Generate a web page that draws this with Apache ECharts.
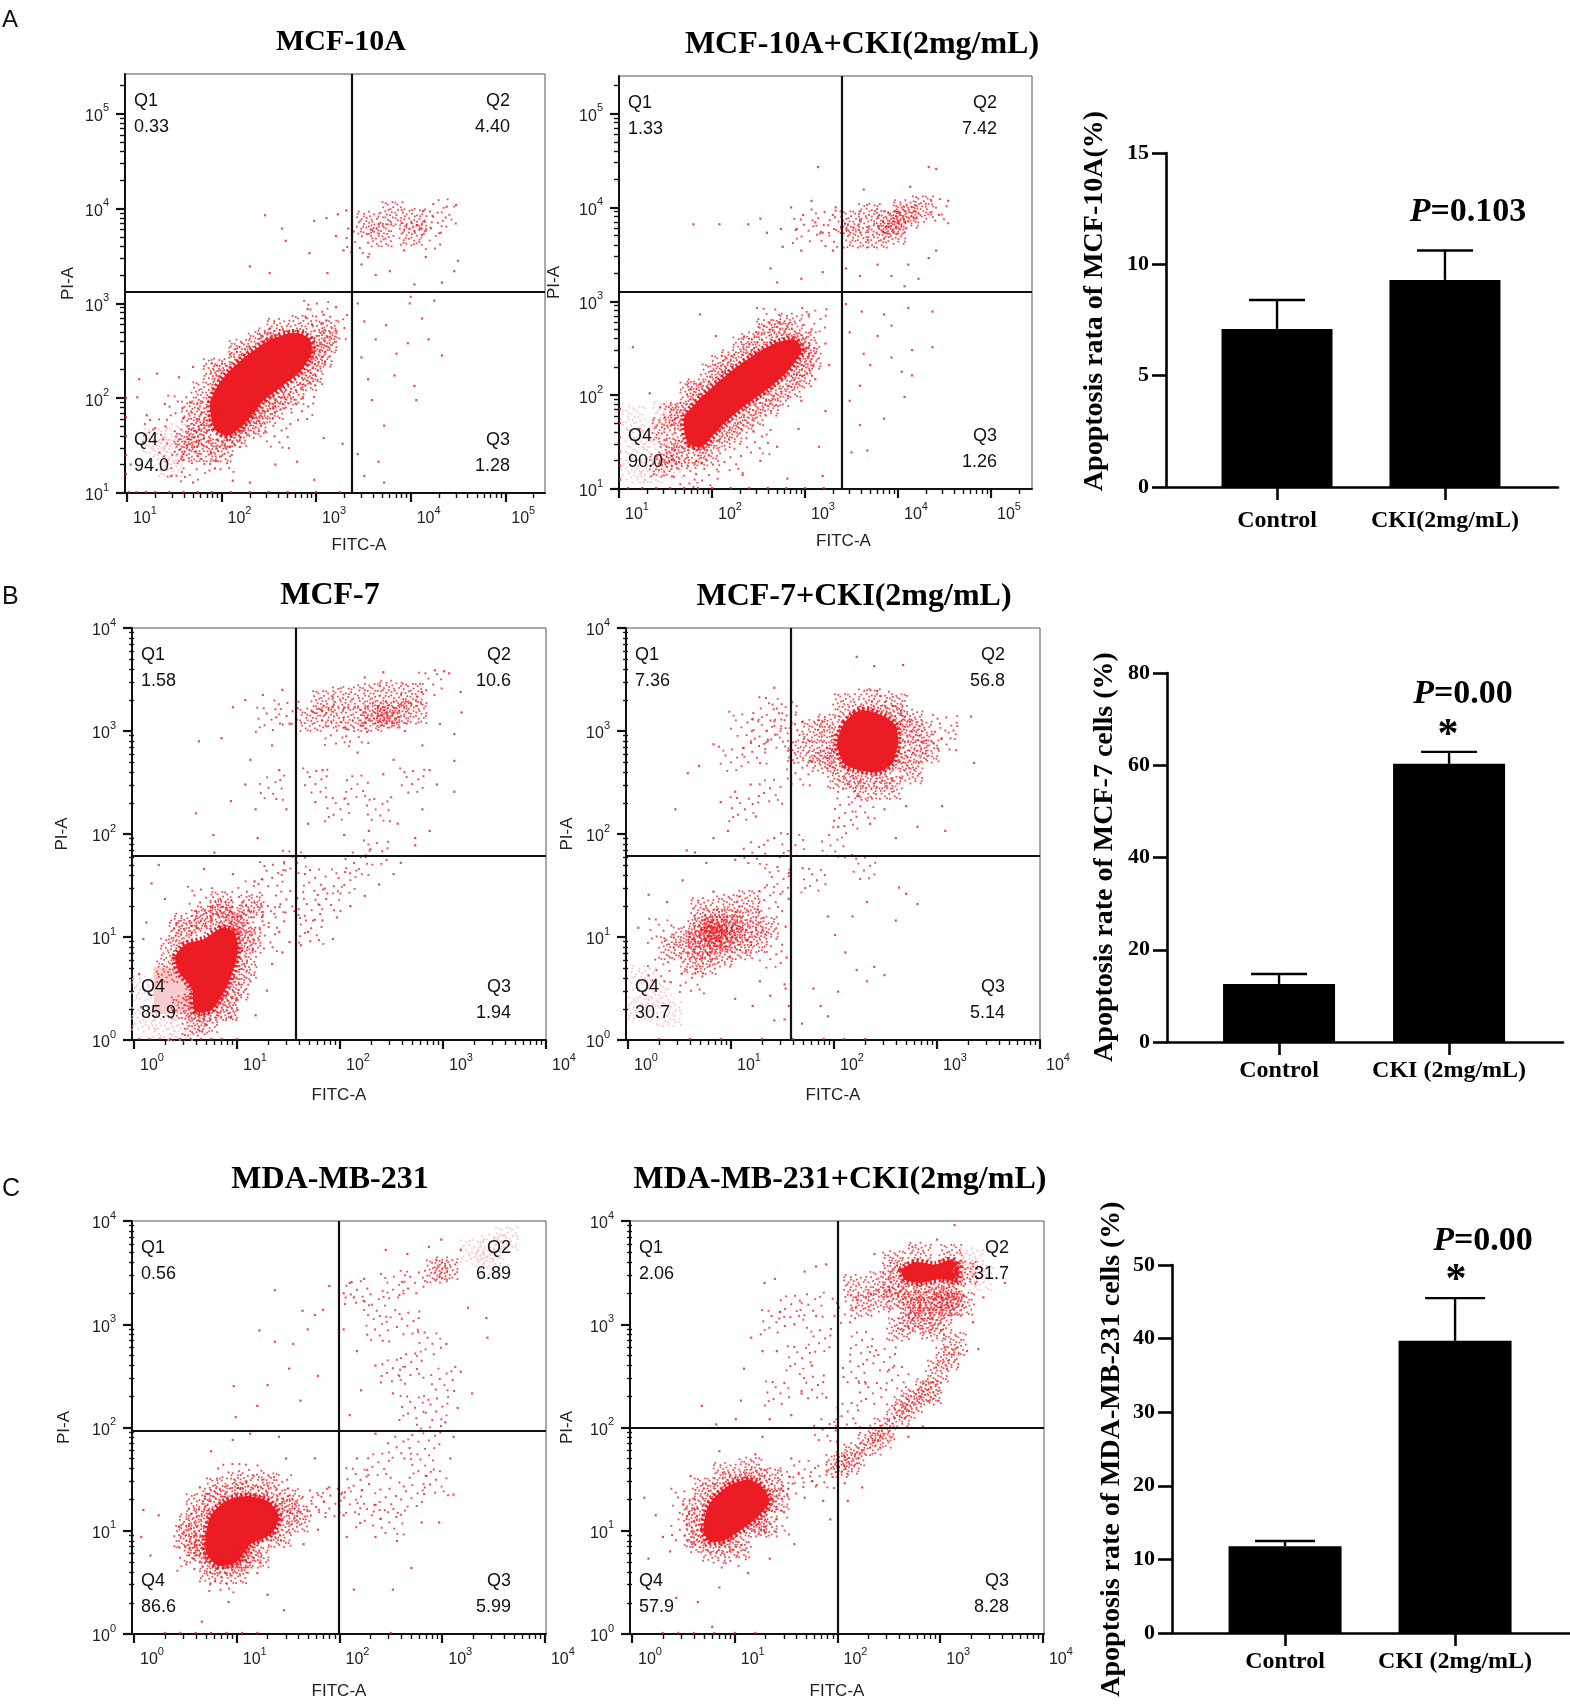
<!DOCTYPE html>
<html>
<head>
<meta charset="utf-8">
<script src="https://cdn.jsdelivr.net/npm/echarts@6/dist/echarts.min.js"></script>
<style>
html,body{margin:0;padding:0;background:#fff}
#c{width:1570px;height:1704px}
</style>
</head>
<body>
<div id="c"></div>
<script>
// ---------- flow cytometry data (log10 units: [FITC-A, PI-A]) ----------
// A1  MCF-10A
const a1X = [0.98, 5.42], a1Y = [1.0, 5.42];
const a1Gate = [3.38, 3.12];
const a1Quad = ['0.33', '4.40', '1.28', '94.0'];
const a1Blob = [[1.93,1.67],[1.88,1.95],[1.99,2.18],[2.22,2.41],[2.49,2.6],[2.76,2.69],[2.93,2.63],[2.95,2.47],[2.82,2.27],[2.62,2.11],[2.43,1.96],[2.28,1.77],[2.08,1.61]];
const a1Dense = [[1.77,1.67],[1.62,1.55],[2.08,1.6],[2.3,1.7],[1.93,2.3],[2.2,2.5],[2.5,2.62],[2.85,2.75],[2.98,2.45],[2.9,2.2],[2.62,2.0],[1.8,2.05],[2.1,1.75],[1.85,1.45],[2.45,1.85],[2.75,2.6],[3.1,2.6],[1.88,1.78],[2.86,2.53],
  [2.0,2.25],[2.2,2.42],[2.4,2.58],[2.6,2.72],[2.15,1.6],[2.35,1.75],[2.55,1.9],[2.75,2.05],[2.95,2.25],[3.05,2.45],[1.75,1.6],[1.65,1.45],[3.1,2.7],[1.7,1.85],[2.0,1.45],
  [3.55,3.85],[3.8,3.95],[4.05,3.88],[3.7,3.72],[4.0,3.73]];
const a1Light = [[1.47,1.3],[1.7,1.25],[2.0,1.35],[3.2,2.75],[3.0,2.9],[1.55,1.9],[1.3,1.65],[2.6,1.6],[2.85,1.9],
  [4.25,3.85],[4.35,3.97],[3.45,3.65],[4.2,3.7]];
const a1Dots = [[2.46,3.93],[2.64,3.79],[2.68,3.66],[2.3,3.39],[2.51,3.32],[2.93,3.53],[2.98,3.87],[3.11,3.9],[3.12,3.32],[3.23,3.94],[3.21,3.71],[3.29,3.56],[3.32,3.98],[3.34,3.79],
  [3.48,3.41],[3.63,3.3],[3.78,3.34],[3.93,3.56],[4.04,3.2],[4.16,3.49],[4.33,3.22],[4.46,3.34],[4.5,3.45],[4.38,4.02],[4.48,4.04],[3.55,3.49],
  [3.44,3.0],[3.51,2.81],[3.63,2.62],[3.74,2.77],[3.48,2.43],[3.55,2.2],[3.59,1.98],[3.72,1.71],[3.83,2.24],[3.85,2.47],[3.97,2.58],[4.04,2.13],[4.06,1.98],[4.19,2.62],[4.25,3.03],[4.33,2.45],[3.99,3.0],[4.12,2.84],[3.44,1.41],[3.51,1.18],[3.72,1.11],[3.66,1.33],[4.0,3.07],
  [1.13,2.2],[1.21,1.82],[1.32,2.26],[1.4,1.94],[1.55,2.22],[1.7,2.33],[2.91,2.94],[3.08,2.88],[3.21,2.96],[3.08,1.58],[3.28,1.52],[2.8,1.33],[2.57,1.3],[2.3,1.11],[2.12,1.13],[2.98,1.14],[1.47,1.18],[1.7,1.11],[1.93,1.26],[1.11,2.01],[1.28,1.67],[1.04,1.3],
  [1.02,1.01],[1.1,1.01],[1.2,1.01],[1.3,1.01],[1.45,1.01],[1.6,1.01],[1.75,1.01],[1.9,1.01],[2.1,1.01],[2.3,1.01],[2.5,1.01],[2.7,1.01],[3.0,1.01],[3.25,1.01],
  [0.99,1.2],[0.99,1.4],[0.99,1.6],[0.99,1.8],[0.99,2.0]];
const a1Pale = [[1.4,1.45],[1.52,1.6],[1.45,1.3],[1.3,1.55]];

// A2  MCF-10A+CKI
const a2X = [1.0, 5.44], a2Y = [1.0, 5.4];
const a2Gate = [3.39, 3.1];
const a2Quad = ['1.33', '7.42', '1.26', '90.0'];
const a2Blob = [[1.74,1.49],[1.7,1.75],[1.89,1.98],[2.15,2.21],[2.41,2.4],[2.67,2.55],[2.89,2.59],[2.96,2.48],[2.81,2.25],[2.59,2.06],[2.33,1.87],[2.07,1.64],[1.89,1.45]];
const a2Dense = [[1.63,1.34],[1.85,1.37],[2.07,1.56],[2.33,1.72],[2.59,1.9],[2.85,2.1],[2.96,2.32],[3.0,2.55],[2.74,2.66],[2.44,2.55],[2.22,2.36],[2.0,2.21],[1.78,2.02],[1.67,1.79],[1.48,1.64],[1.7,1.53],[2.93,2.51],
  [1.6,1.8],[1.85,2.05],[2.1,2.3],[2.35,2.5],[2.6,2.68],[2.85,2.75],[1.95,1.4],[2.2,1.6],[2.45,1.8],[2.7,2.0],[2.95,2.2],[3.05,2.4],[1.55,1.4],[1.45,1.25],
  [3.48,3.84],[3.7,3.92],[3.89,3.84],[4.07,3.96],[4.26,4.0],[3.96,3.73],[3.78,3.69],[3.56,3.69],[3.96,3.84],[4.1,3.9]];
const a2Light = [[1.7,1.18],[1.93,1.15],[2.2,1.3],[2.5,1.5],[3.1,2.8],[2.6,2.8],[4.41,3.96],[3.3,3.7],[3.2,3.85],[3.0,3.75]];
const a2Dots = [[1.8,3.82],[2.08,3.82],[2.39,3.82],[2.52,3.88],[2.59,3.73],[2.74,3.77],[2.76,3.58],[2.85,4.0],[2.98,3.92],[3.07,4.07],[3.14,4.43],[3.19,3.73],[2.96,3.54],[2.63,3.35],[2.7,3.2],[2.96,3.24],[3.19,3.31],[3.3,3.92],[3.3,3.54],[3.33,4.0],[3.11,3.84],[2.91,3.77],
  [4.33,4.43],[4.41,4.41],[4.13,4.22],[3.63,4.19],[4.54,4.07],[4.44,3.92],[4.41,3.54],[4.33,3.46],[4.11,3.39],[3.78,3.39],[3.59,3.27],[3.93,3.27],[4.22,3.24],[4.07,3.16],[3.44,3.35],
  [3.44,2.97],[3.61,2.89],[3.85,2.86],[4.11,2.93],[4.37,2.89],[3.93,2.74],[3.78,2.63],[3.63,2.44],[4.15,2.48],[4.37,2.51],[4.04,2.25],[3.7,2.32],[3.59,2.1],[3.48,1.94],[4.07,1.98],[3.85,1.75],[3.59,1.68],[3.5,1.39],[3.67,1.41],[4.15,2.21],[3.93,2.4],[3.48,2.67],
  [1.87,2.86],[2.04,2.63],[1.15,2.51],[1.33,2.02],[1.44,1.87],[1.22,1.64],[3.04,2.86],[3.07,2.7],[3.22,2.55],[3.26,2.32],[3.11,2.17],[2.96,1.94],[3.22,1.83],[2.93,1.64],[3.15,1.45],[2.7,1.45],[2.52,1.3],[2.81,1.11],[3.19,1.14],[2.33,1.15],
  [1.1,1.01],[1.25,1.01],[1.4,1.01],[1.55,1.01],[1.7,1.01],[1.85,1.01],[2.0,1.01],[2.2,1.01],[2.4,1.01],[2.6,1.01],[2.8,1.01],[3.0,1.01],[3.2,1.01],
  [1.01,1.1],[1.01,1.25],[1.01,1.4],[1.01,1.55],[1.01,1.7],[1.01,1.85]];
const a2Pale = [[1.15,1.2],[1.35,1.2],[1.55,1.25],[1.2,1.5],[1.4,1.55],[1.15,1.75],[1.5,1.8]];

// B1  MCF-7
const b1X = [-0.02, 4.0], b1Y = [0, 4.0];
const b1Gate = [1.57, 1.79];
const b1Quad = ['1.58', '10.6', '1.94', '85.9'];
const b1Blob = [[0.4,0.81],[0.5,0.93],[0.68,0.98],[0.85,1.09],[0.97,1.05],[1.01,0.88],[0.96,0.67],[0.87,0.46],[0.75,0.29],[0.59,0.28],[0.56,0.5],[0.43,0.67]];
const b1Dense = [[0.37,0.88],[0.33,0.67],[0.5,1.12],[0.71,1.19],[0.96,1.19],[1.06,0.98],[0.99,0.78],[0.92,0.53],[0.64,0.29],[0.47,0.32],[0.89,0.32],[0.85,1.33],[0.93,1.1],[0.6,0.45],
  [0.45,1.05],[0.65,1.15],[0.85,1.25],[1.05,1.15],[1.12,0.95],[1.08,0.7],[1.0,0.5],[0.9,0.3],[0.7,0.18],[0.58,0.15],[1.15,1.3],
  [1.72,3.11],[1.93,3.14],[2.14,3.12],[2.35,3.18],[2.56,3.18],[2.73,3.18],[1.83,3.28],[2.04,3.32],[2.28,3.35],[2.49,3.38],[2.7,3.35],[2.47,3.14],[2.31,3.11],[2.47,3.14]];
const b1Light = [[0.64,1.37],[1.13,1.19],[1.27,0.98],[1.13,1.44],[1.34,1.61],[1.55,1.72],[1.76,1.54],[1.9,1.37],[2.04,1.54],[1.69,1.26],[1.48,1.33],[2.17,1.72],[2.35,1.82],[1.34,1.19],[1.72,1.05],
  [1.34,2.45],[1.76,2.52],[1.97,2.24],[2.17,2.45],[2.38,2.24],[2.7,2.52],[2.87,3.45],[1.97,2.97],[2.17,3.0],[1.48,3.18],[1.3,3.11]];
const b1Dots = [[0.63,2.9],[0.6,2.2],[0.77,1.99],[0.85,2.93],[0.96,3.23],[1.08,3.3],[1.25,3.35],[1.44,3.4],[0.94,2.32],[1.08,2.48],[1.13,2.72],[1.41,2.62],[1.2,1.96],[1.51,3.07],[1.34,2.86],[1.48,2.24],[1.18,2.24],
  [2.24,3.52],[2.42,3.57],[2.92,3.59],[3.01,3.58],[3.06,3.56],[3.17,3.38],[3.18,3.18],[3.11,2.97],[3.11,2.71],[3.11,2.41],[2.94,2.48],[2.87,2.03],[2.8,2.24],[2.52,2.72],[2.56,2.1],[2.73,1.96],[2.42,2.58],[1.83,2.62],[1.76,2.31],[1.69,2.1],[2.04,1.99],[2.28,2.03],[2.17,2.79],[2.8,2.86],[2.63,3.0],[2.97,3.07],[2.87,2.62],
  [2.59,1.72],[2.52,1.61],[2.38,1.51],[2.24,1.4],[2.1,1.3],[1.97,1.19],[1.83,1.16],[1.69,1.05],[1.62,0.92],[1.93,0.98],[2.73,1.89],
  [0.24,1.7],[0.17,1.52],[0.12,1.14],[0.09,0.98],[0.68,1.66],[0.78,1.82],[0.94,0.22],[1.18,0.24],[1.29,0.48],[1.13,0.57],[1.34,0.74],[1.44,0.85],[1.51,0.95],[1.41,1.05],[1.17,1.54],[0.96,1.61],[0.3,1.37],[0.05,0.64],[0.07,0.32],[0.7,0.15],
  [0.05,0.01],[0.15,0.01],[0.25,0.01],[0.35,0.01],[0.45,0.01],[0.55,0.01],[0.65,0.01],[0.75,0.01],[0.85,0.01],[1.0,0.01]];
const b1Pale = [[0.1,0.2],[0.3,0.15],[0.1,0.5],[0.45,0.1]];
const b1PaleBox = [[0.19, 0.254], [0.557, 0.706]];

// B2  MCF-7+CKI
const b2X = [-0.02, 4.0], b2Y = [0, 4.0];
const b2Gate = [1.58, 1.79];
const b2Quad = ['7.36', '56.8', '5.14', '30.7'];
const b2Blob = [[2.1,3.08],[2.25,3.2],[2.45,3.16],[2.6,3.05],[2.62,2.88],[2.56,2.68],[2.42,2.6],[2.25,2.62],[2.1,2.68],[2.03,2.88]];
const b2Dense = [[0.55,0.99],[0.69,1.06],[0.69,0.89],[0.83,1.16],[0.97,1.16],[1.1,1.06],[1.24,0.96],[1.1,0.89],[0.9,0.82],[0.76,0.75],[0.62,0.75],[0.41,0.89],[1.35,1.09],[0.97,1.3],[0.72,1.27],[1.17,1.34],
  [0.8,1.0],[1.0,0.98],[0.85,1.08],[0.65,0.95],[1.2,1.15],[0.8,1.02],[0.92,1.05],[0.86,0.95],[0.75,1.1],[1.0,1.1],[0.9,1.0],
  [2.04,2.93],[2.04,2.73],[2.63,3.0],[2.67,2.73],[2.56,3.14],[2.29,3.14],[2.22,2.55],[2.46,2.55],[1.87,2.8],[1.66,2.8],[1.8,3.0],[2.84,3.0],[2.91,2.8],[2.1,2.85],[2.58,2.8],
  [1.95,3.05],[2.1,3.25],[2.35,3.3],[2.6,3.25],[2.75,3.1],[2.8,2.85],[2.75,2.6],[2.55,2.45],[2.3,2.45],[2.05,2.55],[1.9,2.7]];
const b2Light = [[1.38,0.82],[0.31,1.06],[0.62,0.57],[0.31,0.68],[1.1,3.07],[1.31,3.0],[1.45,2.93],[1.24,2.8],[1.0,2.73],[1.38,3.21],[1.59,3.04],[3.08,2.93],[3.08,3.04],[2.46,3.28],[2.15,2.45],[1.66,2.59],[1.52,3.14],
  [1.1,2.24],[1.38,2.41],[1.24,1.82],[1.45,1.55],[1.59,1.89],[1.38,1.37],[2.0,1.89],[2.29,1.68],[1.8,1.55],[2.11,2.17],[2.29,2.27]];
const b2Dots = [[1.94,1.2],[2.01,1.02],[2.11,0.85],[2.22,0.68],[2.32,0.57],[2.39,0.71],[2.49,0.63],[2.7,1.42],[2.81,1.32],[1.8,0.5],[1.87,0.33],[1.69,0.16],[2.18,1.2],[2.32,1.34],[2.63,1.48],[2.6,1.16],[2.04,0.47],[1.94,0.23],
  [1.28,0.57],[1.38,0.43],[1.52,0.54],[1.56,0.33],[1.42,0.19],[1.21,0.33],[1.04,0.4],[1.56,1.37],[1.45,1.68],[1.56,1.62],[0.2,1.41],[0.1,1.09],[0.38,1.34],[0.53,1.55],[0.83,1.44],[0.65,1.82],[1.04,1.75],
  [0.46,2.24],[0.57,1.84],[0.76,1.72],[0.83,1.96],[0.58,2.59],[0.69,2.66],[0.83,2.87],[0.9,2.31],[1.04,2.41],[1.19,2.48],[1.42,3.42],[1.59,3.28],[1.24,2.17],[0.97,2.03],[1.42,1.96],
  [2.22,3.72],[2.39,3.63],[2.67,3.64],[3.33,3.14],[3.36,2.69],[3.05,2.27],[3.08,2.03],[2.7,2.27],[2.49,2.24],[2.35,2.1],[2.6,1.96],[2.81,2.07],[2.04,2.07],
  [1.52,0.2],[1.53,0.5],[1.54,0.8],[1.53,1.1],
  [0.3,0.01],[0.6,0.01],[0.9,0.01],[1.3,0.01],[1.6,0.01],[1.9,0.01],[2.1,0.01],[2.3,0.01]];
const b2Pale = [[0.12,0.3],[0.3,0.45],[0.15,0.6],[0.4,0.25]];

// C1  MDA-MB-231
const c1X = [-0.02, 4.01], c1Y = [0, 4.0];
const c1Gate = [1.99, 1.97];
const c1Quad = ['0.56', '6.89', '5.99', '86.6'];
const c1Blob = [[0.696,0.938],[0.748,1.146],[0.887,1.285],[1.096,1.337],[1.304,1.285],[1.409,1.146],[1.339,0.972],[1.13,0.868],[0.991,0.694],[0.817,0.66],[0.713,0.764]];
const c1Dense = [[0.64,1.11],[0.64,0.87],[0.78,0.69],[0.99,0.69],[1.13,0.8],[1.34,1.01],[1.34,1.22],[1.2,1.32],[0.99,1.32],[0.78,1.29],[1.48,1.18],[0.5,0.94],[0.7,0.85],[1.05,0.75],
  [0.55,1.05],[0.6,0.8],[0.75,0.6],[1.0,0.6],[1.2,0.75],[1.42,0.95],[1.5,1.3],[1.3,1.45],[1.05,1.45],[0.8,1.4],[0.62,1.25],[1.6,1.1],
  [3.04,3.54],[2.94,3.51]];
const c1Light = [[1.62,1.22],[0.54,0.73],[0.85,0.52],[1.76,1.29],[1.9,1.25],[1.13,1.53],[0.92,1.53],[1.41,1.42],
  [2.1,1.29],[2.28,1.15],[2.45,1.29],[2.52,1.08],[2.7,1.35],[2.8,1.63],[2.38,1.63],[2.59,1.81],[2.87,1.91],[2.17,1.49],[2.94,1.46],
  [2.35,3.19],[2.52,3.37],[2.7,3.4],[2.17,3.3],[2.38,2.95],[2.66,3.02],[2.87,2.81],[2.7,2.6],[3.01,2.47],[2.94,2.19],[2.7,2.19],[2.52,2.54]];
const c1Dots = [[1.37,3.33],[1.22,2.94],[1.37,2.83],[0.97,2.4],[1.3,2.41],[1.2,2.21],[0.99,2.1],[1.51,2.57],[1.62,2.26],[1.69,2.95],[1.76,3.09],[1.84,3.14],[1.9,3.37],[1.79,2.5],[1.55,2.81],[1.64,3.13],
  [2.04,3.3],[2.14,3.26],[2.1,3.4],[2.24,3.44],[2.45,3.72],[2.66,3.68],[2.87,3.75],[2.99,3.82],[3.18,3.72],[3.25,3.16],[3.43,3.06],[3.44,2.87],[3.29,2.33],[3.18,2.54],[3.15,2.19],[2.17,2.74],[2.04,2.95],[2.21,2.36],[2.35,2.6],[2.52,2.33],[3.04,2.81],[2.1,2.12],
  [2.07,0.94],[2.35,0.94],[2.56,0.9],[2.7,0.64],[2.14,0.43],[2.52,0.43],[3.08,1.7],[3.11,1.91],[3.03,2.05],[2.35,1.94],[2.17,1.7],[2.04,1.15],[2.8,1.08],[2.97,1.08],[3.11,1.35],
  [0.09,1.2],[0.07,0.94],[0.16,0.76],[0.24,1.15],[0.44,1.04],[0.75,1.77],[0.96,1.88],[1.13,1.94],[1.41,1.91],[0.92,0.31],[0.66,0.12],[1.46,0.23],[1.3,0.38],[1.2,0.59],[1.65,0.87],[1.79,1.01],[1.9,1.42],[1.76,1.7],[1.48,1.7],[0.64,1.42],
  [0.3,0.01],[0.45,0.01],[0.6,0.01],[0.75,0.01],[0.9,0.01],[1.05,0.01],[1.2,0.01],[2.5,0.01]];
const c1Pale = [[3.3,3.7],[3.5,3.75],[3.45,3.6],[3.62,3.82]];

// C2  MDA-MB-231+CKI
const c2X = [-0.02, 4.01], c2Y = [0, 4.0];
const c2Gate = [2.0, 2.0];
const c2Quad = ['2.06', '31.7', '8.28', '57.9'];
const c2Blob = [[0.694,1.007],[0.747,1.25],[0.92,1.424],[1.128,1.493],[1.267,1.424],[1.337,1.285],[1.233,1.146],[1.059,1.007],[0.885,0.903],[0.747,0.903]];
const c2Blob2 = [[2.62,3.52],[2.75,3.6],[2.95,3.58],[3.1,3.62],[3.18,3.55],[3.16,3.42],[3.0,3.44],[2.8,3.4],[2.66,3.43]];
const c2Dense = [[0.64,1.11],[0.68,0.9],[0.92,0.9],[1.2,1.08],[1.3,1.29],[1.2,1.49],[0.99,1.46],[0.78,1.35],[1.06,1.42],[1.2,1.1],
  [0.6,1.2],[0.62,0.95],[0.8,0.8],[1.05,0.85],[1.3,1.05],[1.42,1.3],[1.35,1.5],[1.15,1.6],[0.9,1.55],[0.7,1.4],
  [2.0,1.63],[2.17,1.74],[2.31,1.84],[2.45,1.98],[2.59,2.12],[2.73,2.26],[2.87,2.36],[2.97,2.54],[3.07,2.67],[3.14,2.81],[2.41,1.91],[2.9,2.33],[2.1,1.66],[2.66,2.2],
  [2.62,3.51],[2.59,3.26],[2.41,3.23],[2.24,3.19],[2.17,3.37],[2.41,3.4],[3.11,3.51],[3.11,3.19],[2.8,3.02],[2.59,2.95],[2.93,2.95],
  [2.55,3.6],[2.8,3.68],[3.1,3.66],[3.25,3.5],[3.22,3.2],[3.0,3.05],[2.7,3.05],[2.55,3.35],[2.85,3.35],[3.05,3.35],
  [2.75,3.2],[2.9,3.22],[3.05,3.2],[2.82,3.15],[2.98,3.25],[2.7,3.27],[3.12,3.28]];
const c2Light = [[1.41,1.42],[1.55,1.46],[1.68,1.56],[0.5,1.01],[0.5,1.29],[0.99,0.76],[1.41,1.08],[1.86,1.53],
  [2.07,3.13],[1.37,3.02],[1.55,3.16],[1.75,3.19],[1.82,2.85],[1.62,2.67],[2.24,2.81],[2.17,2.54],[2.45,2.67],[2.31,2.33],[2.1,2.12],[1.89,1.98],[1.75,2.4],[1.41,2.33],[2.59,2.47]];
const c2Dots = [[0.68,2.21],[1.01,2.08],[0.82,2.03],[1.09,2.57],[1.27,2.74],[1.16,2.87],[1.29,3.4],[1.39,3.44],[1.68,3.51],[1.79,3.56],[1.89,3.58],[1.58,3.0],[1.41,2.74],[1.65,2.33],[1.75,2.6],[1.89,2.29],[1.34,2.08],[1.55,2.12],[1.06,2.26],
  [2.97,3.82],[3.14,3.96],[2.36,3.68],[2.73,3.75],[3.26,2.74],[3.37,2.76],[3.42,3.26],[3.21,3.26],[3.63,3.4],[3.32,3.02],
  [0.12,1.32],[0.23,1.15],[0.3,0.94],[0.16,0.73],[0.37,0.8],[0.57,1.53],[0.85,1.77],[1.2,1.74],[1.27,1.91],[1.55,1.7],[1.68,1.32],[1.48,1.18],[1.58,0.87],[1.34,0.73],[1.13,0.59],[0.85,0.45],[0.64,0.31],[0.43,0.35],[0.78,0.07],[1.86,1.29],[1.93,1.11],
  [2.1,1.29],[2.07,1.46],[2.24,1.42],[2.69,1.91],[2.83,2.01],
  [0.3,0.01],[0.45,0.01],[0.6,0.01],[0.8,0.01],[1.0,0.01],[1.2,0.01]];
const c2Pale = [[3.25,3.5],[3.4,3.45],[3.3,3.62]];

// ---------- bar chart data ----------
const aBarCats = ['Control', 'CKI(2mg/mL)'];
const bcBarCats = ['Control', 'CKI (2mg/mL)'];
const aBarMean = [7.1, 9.3],   aBarErr = [1.3, 1.32];
const bBarMean = [12.6, 60.3], bBarErr = [2.15, 2.6];
const cBarMean = [11.8, 39.7], cBarErr = [0.7, 5.8];

// ---------- styles ----------
const SANS = '"Liberation Sans", Arial, sans-serif';
const SERIF = '"Liberation Serif", "Times New Roman", serif';
const RED = '#ec1c24';
const PALE = '#f4c0c2';
const INK = '#111';

// stipple tiles give a dotted texture to dense event regions
const DENSE_PATTERN = [[0,0.5],[6.5,2.5],[13,0],[19.5,2],[26,0.5],[3,7],[9.5,6],[16,8],[22.5,6.5],[27.8,9],
  [0,13],[6,12],[12.5,14],[19,12.5],[25.5,14.5],[3,19],[9.5,18],[15.5,20],[22,18.5],[27.5,21],
  [0,25.5],[6.5,24.5],[13,27.8],[19,25],[25.5,27.8],[10,1.5],[23,3],[0.5,9.5],[13,9.5],[20,9],
  [8.5,15.5],[16,16],[23.5,16],[1,21.5],[11.5,22],[19,22],[27,25]];
const LIGHT_PATTERN = [[0,0],[15,3],[27.8,1.5],[7.5,10],[21,12.5],[2,19.5],[14,18],[26,22.5],[9.5,27.8],[20,27],[27,9],[5,4.5]];
function stipple(pts, s) {
  return 'path://' + pts.map(p => 'M' + p[0] + ' ' + p[1] + 'h' + s + 'v' + s + 'h-' + s + 'z').join('');
}
const DENSE_SYM = stipple(DENSE_PATTERN, 2.2);
const LIGHT_SYM = stipple(LIGHT_PATTERN, 2.2);

function majorTicks(r) {
  const out = [];
  for (let n = Math.ceil(r[0] - 1e-6); n <= r[1] + 1e-6; n++) out.push(n);
  return out;
}
function minorTicks(r) {
  const out = [];
  for (let n = Math.floor(r[0]); n <= Math.ceil(r[1]); n++) {
    for (let k = 2; k <= 9; k++) {
      const v = n + Math.log10(k);
      if (v > r[0] + 1e-6 && v < r[1] - 1e-6) out.push(+v.toFixed(4));
    }
  }
  return out;
}
function rotItems(arr) {
  return arr.map((p, i) => ({ value: p, symbolRotate: (i % 4) * 90 }));
}

const flows = [
  { grid: {left:125, top:74, width:420, height:419}, xr:a1X, yr:a1Y, gate:a1Gate, quad:a1Quad,
    blobs:[a1Blob], dense:a1Dense, light:a1Light, dots:a1Dots, pale:a1Pale,
    title:'MCF-10A', tpos:[341,42], tsize:30, yGap:48, xGap:44, xShift:48 },
  { grid: {left:619, top:76, width:413, height:413}, xr:a2X, yr:a2Y, gate:a2Gate, quad:a2Quad,
    blobs:[a2Blob], dense:a2Dense, light:a2Light, dots:a2Dots, pale:a2Pale,
    title:'MCF-10A+CKI(2mg/mL)', tpos:[862,45], tsize:32, yGap:56, xGap:44, xShift:36 },
  { grid: {left:132, top:628, width:414, height:412}, xr:b1X, yr:b1Y, gate:b1Gate, quad:b1Quad,
    blobs:[b1Blob], dense:b1Dense, light:b1Light, dots:b1Dots, pale:b1Pale, paleBox:b1PaleBox,
    title:'MCF-7', tpos:[330,596], tsize:32, yGap:61, xGap:47, xShift:0 },
  { grid: {left:626, top:628, width:414, height:412}, xr:b2X, yr:b2Y, gate:b2Gate, quad:b2Quad,
    blobs:[b2Blob], dense:b2Dense, light:b2Light, dots:b2Dots, pale:b2Pale,
    title:'MCF-7+CKI(2mg/mL)', tpos:[854,597], tsize:32, yGap:50, xGap:47, xShift:0 },
  { grid: {left:132, top:1221, width:414, height:413}, xr:c1X, yr:c1Y, gate:c1Gate, quad:c1Quad,
    blobs:[c1Blob], dense:c1Dense, light:c1Light, dots:c1Dots, pale:c1Pale,
    title:'MDA-MB-231', tpos:[330,1180], tsize:32, yGap:59, xGap:49, xShift:0 },
  { grid: {left:630, top:1221, width:414, height:413}, xr:c2X, yr:c2Y, gate:c2Gate, quad:c2Quad,
    blobs:[c2Blob, c2Blob2], dense:c2Dense, light:c2Light, dots:c2Dots, pale:c2Pale,
    title:'MDA-MB-231+CKI(2mg/mL)', tpos:[840,1180], tsize:32, yGap:54, xGap:49, xShift:0 }
];

const bars = [
  { grid:{left:1166, top:153, width:392, height:334}, xr:[0.339, 2.673], yMax:15, step:5, cats:aBarCats,
    mean:aBarMean, err:aBarErr, bw:111, cap:28, catGap:22,
    ytitle:'Apoptosis rata of MCF-10A(%)', tcenter:[1095,301], p:'=0.103', ppos:[1468,212], star:null },
  { grid:{left:1167, top:673, width:396, height:369}, xr:[0.341, 2.67], yMax:80, step:20, cats:bcBarCats,
    mean:bBarMean, err:bBarErr, bw:112, cap:28, catGap:17,
    ytitle:'Apoptosis rate of MCF-7 cells (%)', tcenter:[1105,857], p:'=0.00', ppos:[1463,694], star:[1448,727] },
  { grid:{left:1172, top:1265, width:398, height:368}, xr:[0.335, 2.676], yMax:50, step:10, cats:bcBarCats,
    mean:cBarMean, err:cBarErr, bw:113, cap:30, catGap:17,
    ytitle:'Apoptosis rate of MDA-MB-231 cells (%)', tcenter:[1112,1449], p:'=0.00', ppos:[1483,1241], star:[1456,1272] }
];

const option = { animation:false, backgroundColor:'#fff', grid:[], xAxis:[], yAxis:[], series:[], graphic:[] };

function txt(x, y, text, st, extra) {
  const style = Object.assign({ text: text, fill: INK, fontFamily: SANS, fontSize: 18,
    align: 'left', verticalAlign: 'middle', textVerticalAlign: 'middle' }, st || {});
  style.textAlign = style.align;
  return Object.assign({ type:'text', x:x, y:y, z:100, silent:true, style:style }, extra || {});
}

const tickRich = {
  b: { fontSize:16, fontFamily:SANS, color:'#222', lineHeight:22, verticalAlign:'bottom' },
  s: { fontSize:11, fontFamily:SANS, color:'#222', lineHeight:12, verticalAlign:'top' }
};
const powLabel = v => '{b|10}{s|' + Math.round(v) + '}';

flows.forEach(f => {
  const gi = option.grid.length;
  option.grid.push(Object.assign({ show:true, borderColor:'#555', borderWidth:1, backgroundColor:'transparent' }, f.grid));
  const xi = option.xAxis.length, yi = option.yAxis.length;
  option.xAxis.push({
    gridIndex:gi, type:'value', min:f.xr[0], max:f.xr[1], position:'bottom',
    name:'FITC-A', nameLocation:'middle', nameGap:f.xGap,
    nameTextStyle:{ fontFamily:SANS, fontSize:17, color:'#222', padding:[0,0,0,f.xShift] },
    axisLine:{ show:true, onZero:false, lineStyle:{ color:INK, width:2 } },
    axisTick:{ show:true, customValues:majorTicks(f.xr), length:9, lineStyle:{ color:INK, width:2.2 } },
    axisLabel:{ show:true, customValues:majorTicks(f.xr), formatter:powLabel, rich:tickRich, align:'left', margin:12, padding:[0,0,0,6] },
    splitLine:{ show:false }
  });
  option.xAxis.push({
    gridIndex:gi, type:'value', min:f.xr[0], max:f.xr[1], position:'bottom',
    axisLine:{ show:false }, axisLabel:{ show:false }, splitLine:{ show:false },
    axisTick:{ show:true, customValues:minorTicks(f.xr), length:5, lineStyle:{ color:INK, width:1.4 } }
  });
  option.yAxis.push({
    gridIndex:gi, type:'value', min:f.yr[0], max:f.yr[1], position:'left',
    name:'PI-A', nameLocation:'middle', nameGap:f.yGap,
    nameTextStyle:{ fontFamily:SANS, fontSize:17, color:'#222' },
    axisLine:{ show:true, onZero:false, lineStyle:{ color:INK, width:2 } },
    axisTick:{ show:true, customValues:majorTicks(f.yr), length:9, lineStyle:{ color:INK, width:2.2 } },
    axisLabel:{ show:true, customValues:majorTicks(f.yr), formatter:powLabel, rich:tickRich, margin:16 },
    splitLine:{ show:false }
  });
  option.yAxis.push({
    gridIndex:gi, type:'value', min:f.yr[0], max:f.yr[1], position:'left',
    axisLine:{ show:false }, axisLabel:{ show:false }, splitLine:{ show:false },
    axisTick:{ show:true, customValues:minorTicks(f.yr), length:5, lineStyle:{ color:INK, width:1.4 } }
  });
  const base = { type:'scatter', xAxisIndex:xi, yAxisIndex:yi, silent:true, clip:true, animation:false };
  option.series.push(Object.assign({}, base, { symbol:DENSE_SYM, symbolSize:26, itemStyle:{ color:PALE }, data:rotItems(f.pale) }));
  option.series.push(Object.assign({}, base, { symbol:LIGHT_SYM, symbolSize:26, itemStyle:{ color:RED }, data:rotItems(f.light) }));
  option.series.push(Object.assign({}, base, { symbol:DENSE_SYM, symbolSize:24, itemStyle:{ color:RED }, data:rotItems(f.dense) }));
  f.blobs.forEach(blob => {
    option.series.push({
      type:'custom', xAxisIndex:xi, yAxisIndex:yi, silent:true, clip:true, data:[0],
      renderItem:(params, api) => ({
        type:'polygon', shape:{ points: blob.map(p => api.coord(p)), smooth:0.25 },
        style:{ fill:RED, stroke:RED, lineWidth:7, lineDash:[2, 2.5] }
      })
    });
  });
  option.series.push(Object.assign({}, base, { symbol:'rect', symbolSize:2.2, itemStyle:{ color:RED }, data:f.dots }));
  if (f.paleBox) {
    option.series.push(Object.assign({}, base, { data:[], z:3,
      markArea:{ silent:true, itemStyle:{ color:'#f7cdcf' },
        data:[[{ coord:f.paleBox[0] }, { coord:f.paleBox[1] }]] } }));
  }
  option.series.push(Object.assign({}, base, { data:[f.gate], symbolSize:0, z:5,
    markLine:{ silent:true, symbol:['none','none'], label:{ show:false },
      lineStyle:{ color:INK, width:2.2, type:'solid' },
      data:[{ xAxis:f.gate[0] }, { yAxis:f.gate[1] }] } }));

  // quadrant labels
  const g = f.grid, L = g.left + 9, R = g.left + g.width - 35, T = g.top, B = g.top + g.height;
  option.graphic.push(txt(L, T + 27, 'Q1'), txt(L, T + 53, f.quad[0]),
    txt(R, T + 27, 'Q2', { align:'right' }), txt(R, T + 53, f.quad[1], { align:'right' }),
    txt(R, B - 53, 'Q3', { align:'right' }), txt(R, B - 27, f.quad[2], { align:'right' }),
    txt(L, B - 53, 'Q4'), txt(L, B - 27, f.quad[3]));
  option.graphic.push(txt(f.tpos[0], f.tpos[1], f.title,
    { fontFamily:SERIF, fontWeight:'bold', fontSize:f.tsize, fill:'#000', align:'center' }));
});

bars.forEach(b => {
  const gi = option.grid.length;
  option.grid.push(Object.assign({ show:false }, b.grid));
  const xi = option.xAxis.length, yi = option.yAxis.length;
  option.xAxis.push({
    gridIndex:gi, type:'value', min:b.xr[0], max:b.xr[1],
    axisLine:{ show:true, onZero:false, lineStyle:{ color:'#000', width:2.6 } },
    axisTick:{ show:true, customValues:[1,2], length:13, lineStyle:{ color:'#000', width:2.6 } },
    axisLabel:{ show:true, customValues:[1,2], formatter:v => b.cats[Math.round(v) - 1],
      fontFamily:SERIF, fontWeight:'bold', fontSize:24, color:'#000', margin:b.catGap },
    splitLine:{ show:false }
  });
  option.yAxis.push({
    gridIndex:gi, type:'value', min:0, max:b.yMax, interval:b.step,
    axisLine:{ show:true, lineStyle:{ color:'#000', width:2.6 } },
    axisTick:{ show:true, length:14, lineStyle:{ color:'#000', width:2.6 } },
    axisLabel:{ fontFamily:SERIF, fontWeight:'bold', fontSize:22, color:'#000', margin:17 },
    splitLine:{ show:false }
  });
  option.series.push({
    type:'bar', xAxisIndex:xi, yAxisIndex:yi, silent:true, barWidth:b.bw,
    itemStyle:{ color:'#000' }, data:b.mean.map((v, i) => [i + 1, v])
  });
  option.series.push({
    type:'custom', xAxisIndex:xi, yAxisIndex:yi, silent:true, z:4,
    data:b.mean.map((v, i) => [i + 1, v, b.err[i]]),
    renderItem:(params, api) => {
      const x = api.value(0), v = api.value(1), e = api.value(2);
      const p0 = api.coord([x, v]), p1 = api.coord([x, v + e]);
      const st = { stroke:'#000', lineWidth:2.4 };
      return { type:'group', children:[
        { type:'line', shape:{ x1:p0[0], y1:p0[1], x2:p1[0], y2:p1[1] }, style:st },
        { type:'line', shape:{ x1:p1[0] - b.cap, y1:p1[1], x2:p1[0] + b.cap, y2:p1[1] }, style:st }
      ]};
    }
  });
  option.graphic.push(txt(b.tcenter[0], b.tcenter[1], b.ytitle,
    { fontFamily:SERIF, fontWeight:'bold', fontSize:28, fill:'#000', align:'center' }, { rotation:Math.PI / 2 }));
  option.graphic.push(txt(b.ppos[0], b.ppos[1], '{i|P}{n|' + b.p + '}', {
    align:'center', fill:'#000',
    rich:{ i:{ fontFamily:SERIF, fontWeight:'bold', fontStyle:'italic', fontSize:34, fill:'#000' },
           n:{ fontFamily:SERIF, fontWeight:'bold', fontSize:34, fill:'#000' } } }));
  if (b.star) {
    option.graphic.push(txt(b.star[0], b.star[1] + 9, '*',
      { fontFamily:SERIF, fontWeight:'bold', fontSize:42, fill:'#000', align:'center' }));
  }
});

// panel letters
option.graphic.push(txt(2, 20, 'A', { fontSize:24 }), txt(2, 597, 'B', { fontSize:25 }), txt(2, 1189, 'C', { fontSize:25 }));

const chart = echarts.init(document.getElementById('c'));
chart.setOption(option);
</script>
</body>
</html>
